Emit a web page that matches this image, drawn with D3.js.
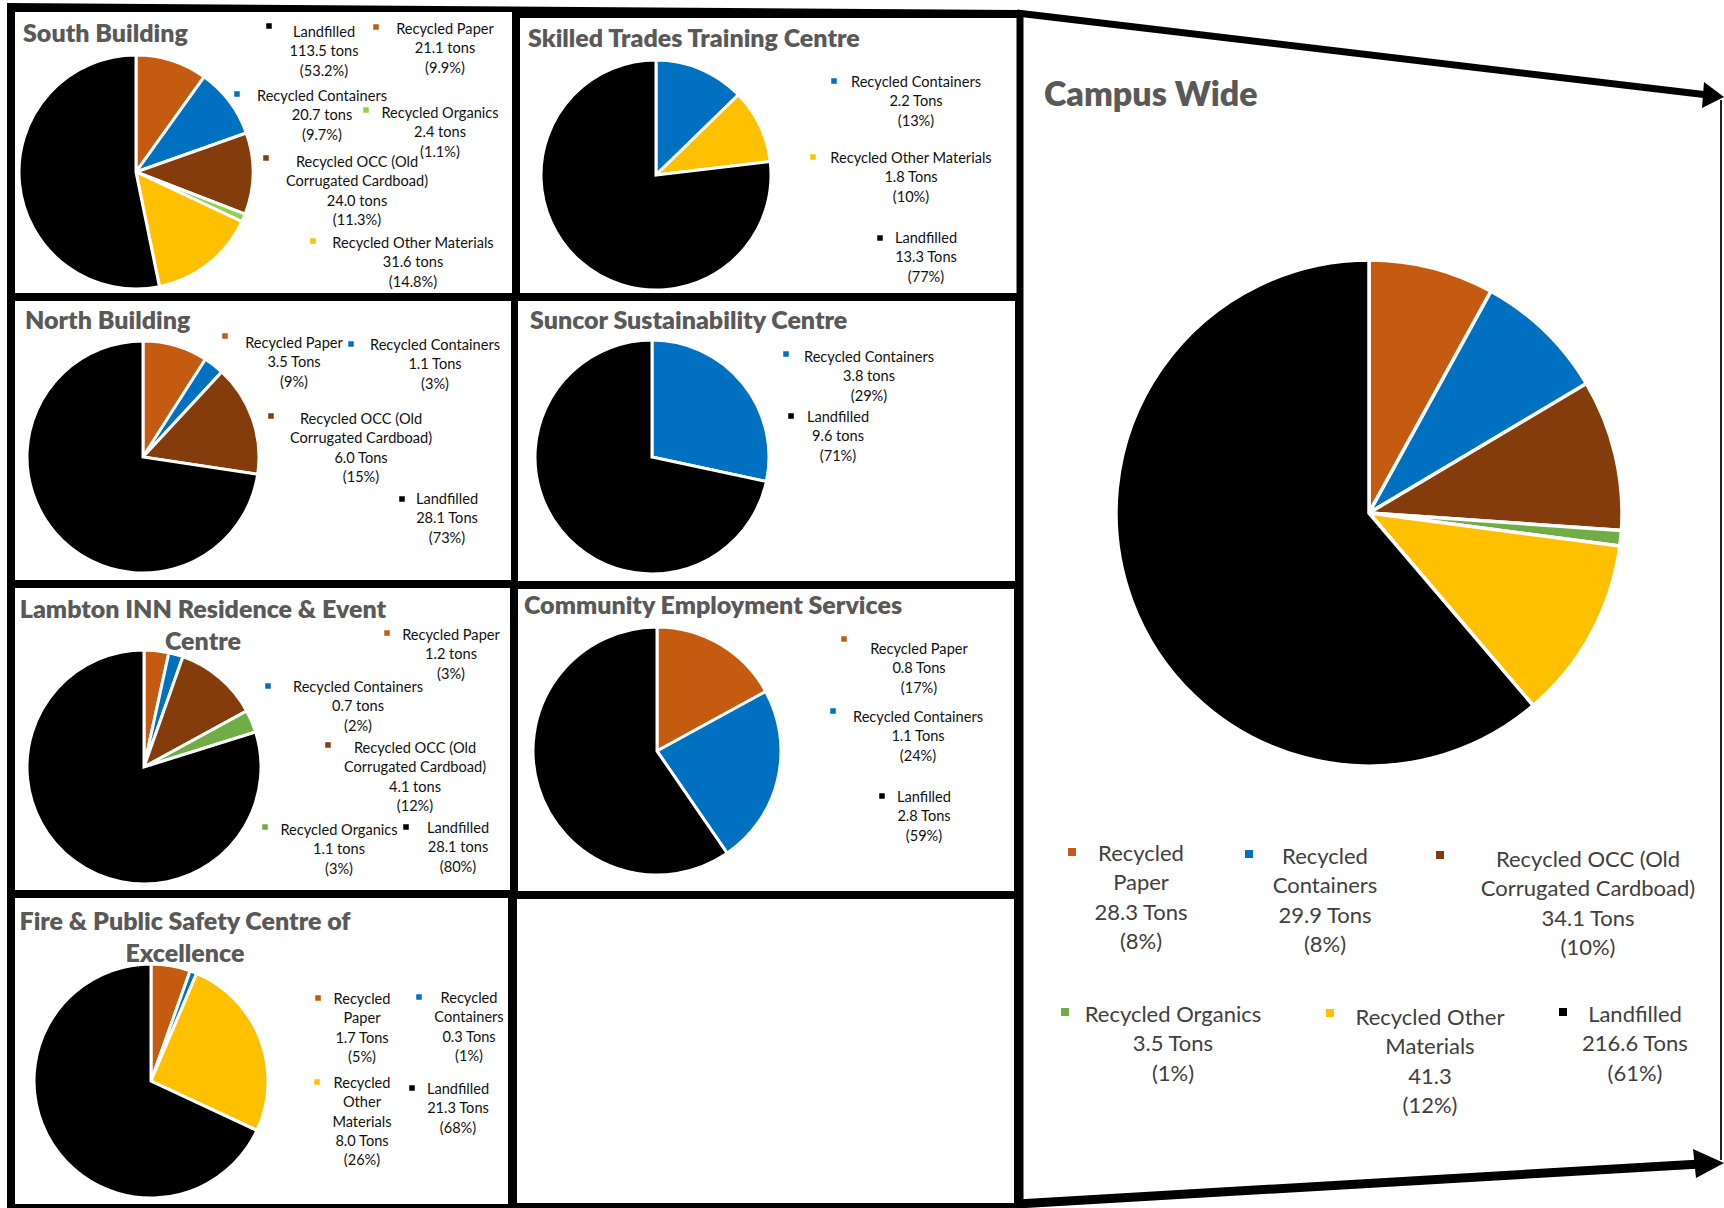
<!DOCTYPE html>
<html><head><meta charset="utf-8">
<script src="https://cdn.jsdelivr.net/npm/d3@7"></script>
<style>body{margin:0;background:#fff}</style>
</head><body>
<svg id="c" width="1724" height="1208"></svg>
<script>
// ---------- DATA ----------
const categories = ["Recycled Paper", "Recycled Containers", "Recycled OCC (Old Corrugated Cardboad)", "Recycled Organics", "Recycled Other Materials", "Landfilled"];
const colors = ["#C55A11", "#0070C0", "#843C0C", "#70AD47", "#FFC000", "#000000"];
const panelTitles = ["South Building", "Skilled Trades Training Centre", "North Building", "Suncor Sustainability Centre", "Lambton INN Residence & Event Centre", "Community Employment Services", "Fire & Public Safety Centre of Excellence", "Campus Wide"];

const southValues     = [21.1, 20.7, 24.0, 2.4, 31.6, 113.5];
const southPct        = ["9.9%", "9.7%", "11.3%", "1.1%", "14.8%", "53.2%"];
const skilledValues   = [null, 2.2, null, null, 1.8, 13.3];
const skilledPct      = [null, "13%", null, null, "10%", "77%"];
const northValues     = [3.5, 1.1, 6.0, null, null, 28.1];
const northPct        = ["9%", "3%", "15%", null, null, "73%"];
const suncorValues    = [null, 3.8, null, null, null, 9.6];
const suncorPct       = [null, "29%", null, null, null, "71%"];
const lambtonValues   = [1.2, 0.7, 4.1, 1.1, null, 28.1];
const lambtonPct      = ["3%", "2%", "12%", "3%", null, "80%"];
const communityValues = [0.8, 1.1, null, null, null, 2.8];
const communityPct    = ["17%", "24%", null, null, null, "59%"];
const fireValues      = [1.7, 0.3, null, null, 8.0, 21.3];
const firePct         = ["5%", "1%", null, null, "26%", "68%"];
const campusValues    = [28.3, 29.9, 34.1, 3.5, 41.3, 216.6];
const campusPct       = ["8%", "8%", "10%", "1%", "12%", "61%"];

// ---------- LAYOUT ----------
const svg = d3.select("#c");
const TITLE_FONT = "Lato, 'Open Sans', sans-serif";
const TITLE_COLOR = "#595959";

// frame background
svg.append("polygon").attr("points", "7,3 1023,10 1023,1208 7,1208").attr("fill", "#000");
const whites = [[15,12,497,281],[520,18,497,275],[15,301,496,279],[518,301,497,280],[15,588,495,302],[518,589,496,302],[15,898,493,306],[517,899,497,304]];
whites.forEach(w => svg.append("rect").attr("x", w[0]).attr("y", w[1]).attr("width", w[2]).attr("height", w[3]).attr("fill", "#fff"));

// campus frame lines with arrows
svg.append("line").attr("x1", 1020).attr("y1", 12).attr("x2", 1020).attr("y2", 1208).attr("stroke", "#000").attr("stroke-width", 7);
svg.append("line").attr("x1", 1017).attr("y1", 13).attr("x2", 1708).attr("y2", 95).attr("stroke", "#000").attr("stroke-width", 7);
svg.append("path").attr("d", "M1704,82 L1724,97 L1702,108 Z").attr("fill", "#000");
svg.append("line").attr("x1", 1017).attr("y1", 1204).attr("x2", 1700).attr("y2", 1164).attr("stroke", "#000").attr("stroke-width", 9);
svg.append("path").attr("d", "M1693,1149 L1724,1163 L1696,1178 Z").attr("fill", "#000");
svg.append("line").attr("x1", 1721).attr("y1", 100).attr("x2", 1721).attr("y2", 1160).attr("stroke", "#222").attr("stroke-width", 2);

const panels = [
  {values: southValues, pct: southPct, cx: 136, cy: 172, r: 117, colorOverride: {3: "#92D050"},
   titles: [{t: "South Building", x: 23, y: 33, a: "start"}],
   legend: [
     {c: 5, mx: 269, my: 26, tx: 324, ty: 32, lines: ["Landfilled"], unit: "tons"},
     {c: 0, mx: 376, my: 27, tx: 445, ty: 29, lines: ["Recycled Paper"], unit: "tons"},
     {c: 1, mx: 237, my: 94, tx: 322, ty: 96, lines: ["Recycled Containers"], unit: "tons"},
     {c: 3, mx: 366, my: 110, tx: 440, ty: 113, lines: ["Recycled Organics"], unit: "tons"},
     {c: 2, mx: 266, my: 158, tx: 357, ty: 162, lines: ["Recycled OCC (Old", "Corrugated Cardboad)"], unit: "tons"},
     {c: 4, mx: 313, my: 241, tx: 413, ty: 243, lines: ["Recycled Other Materials"], unit: "tons"}]},
  {values: skilledValues, pct: skilledPct, cx: 656, cy: 175, r: 115,
   titles: [{t: "Skilled Trades Training Centre", x: 528, y: 38, a: "start"}],
   legend: [
     {c: 1, mx: 834, my: 81, tx: 916, ty: 82, lines: ["Recycled Containers"], unit: "Tons"},
     {c: 4, mx: 813, my: 157, tx: 911, ty: 158, lines: ["Recycled Other Materials"], unit: "Tons"},
     {c: 5, mx: 880, my: 238, tx: 926, ty: 238, lines: ["Landfilled"], unit: "Tons"}]},
  {values: northValues, pct: northPct, cx: 143, cy: 457, r: 116,
   titles: [{t: "North Building", x: 25, y: 320, a: "start"}],
   legend: [
     {c: 0, mx: 225, my: 336, tx: 294, ty: 343, lines: ["Recycled Paper"], unit: "Tons"},
     {c: 1, mx: 351, my: 344, tx: 435, ty: 345, lines: ["Recycled Containers"], unit: "Tons"},
     {c: 2, mx: 271, my: 416, tx: 361, ty: 419, lines: ["Recycled OCC (Old", "Corrugated Cardboad)"], unit: "Tons"},
     {c: 5, mx: 402, my: 499, tx: 447, ty: 499, lines: ["Landfilled"], unit: "Tons"}]},
  {values: suncorValues, pct: suncorPct, cx: 652, cy: 457, r: 117,
   titles: [{t: "Suncor Sustainability Centre", x: 530, y: 320, a: "start"}],
   legend: [
     {c: 1, mx: 786, my: 354, tx: 869, ty: 357, lines: ["Recycled Containers"], unit: "tons"},
     {c: 5, mx: 791, my: 416, tx: 838, ty: 417, lines: ["Landfilled"], unit: "tons"}]},
  {values: lambtonValues, pct: lambtonPct, cx: 144, cy: 767, r: 117,
   titles: [{t: "Lambton INN Residence & Event", x: 203, y: 609, a: "middle"}, {t: "Centre", x: 203, y: 641, a: "middle"}],
   legend: [
     {c: 0, mx: 387, my: 633, tx: 451, ty: 635, lines: ["Recycled Paper"], unit: "tons"},
     {c: 1, mx: 268, my: 686, tx: 358, ty: 687, lines: ["Recycled Containers"], unit: "tons"},
     {c: 2, mx: 328, my: 745, tx: 415, ty: 748, lines: ["Recycled OCC (Old", "Corrugated Cardboad)"], unit: "tons"},
     {c: 3, mx: 265, my: 827, tx: 339, ty: 830, lines: ["Recycled Organics"], unit: "tons"},
     {c: 5, mx: 406, my: 827, tx: 458, ty: 828, lines: ["Landfilled"], unit: "tons"}]},
  {values: communityValues, pct: communityPct, cx: 657, cy: 751, r: 124,
   titles: [{t: "Community Employment Services", x: 524, y: 605, a: "start"}],
   legend: [
     {c: 0, mx: 844, my: 639, tx: 919, ty: 649, lines: ["Recycled Paper"], unit: "Tons"},
     {c: 1, mx: 833, my: 711, tx: 918, ty: 717, lines: ["Recycled Containers"], unit: "Tons"},
     {c: 5, mx: 882, my: 796, tx: 924, ty: 797, lines: ["Lanfilled"], unit: "Tons"}]},
  {values: fireValues, pct: firePct, cx: 151, cy: 1081, r: 117,
   titles: [{t: "Fire & Public Safety Centre of", x: 185, y: 921, a: "middle"}, {t: "Excellence", x: 185, y: 953, a: "middle"}],
   legend: [
     {c: 0, mx: 318, my: 998, tx: 362, ty: 999, lines: ["Recycled", "Paper"], unit: "Tons"},
     {c: 1, mx: 419, my: 997, tx: 469, ty: 998, lines: ["Recycled", "Containers"], unit: "Tons"},
     {c: 4, mx: 317, my: 1082, tx: 362, ty: 1083, lines: ["Recycled", "Other", "Materials"], unit: "Tons"},
     {c: 5, mx: 412, my: 1088, tx: 458, ty: 1089, lines: ["Landfilled"], unit: "Tons"}]},
  {values: campusValues, pct: campusPct, cx: 1369, cy: 513, r: 253, big: true,
   titles: [{t: "Campus Wide", x: 1044, y: 94, a: "start"}],
   legend: [
     {c: 0, mx: 1072, my: 852, tx: 1141, ty: 853, lines: ["Recycled", "Paper"], unit: "Tons"},
     {c: 1, mx: 1249, my: 854, tx: 1325, ty: 856, lines: ["Recycled", "Containers"], unit: "Tons"},
     {c: 2, mx: 1440, my: 855, tx: 1588, ty: 859, lines: ["Recycled OCC (Old", "Corrugated Cardboad)"], unit: "Tons"},
     {c: 3, mx: 1065, my: 1012, tx: 1173, ty: 1014, lines: ["Recycled Organics"], unit: "Tons"},
     {c: 4, mx: 1330, my: 1013, tx: 1430, ty: 1017, lines: ["Recycled Other", "Materials"], unit: ""},
     {c: 5, mx: 1563, my: 1012, tx: 1635, ty: 1014, lines: ["Landfilled"], unit: "Tons"}]}
];

const pie = d3.pie().sort(null).value(d => d.v);

panels.forEach(p => {
  const g = svg.append("g");
  const col = i => (p.colorOverride && p.colorOverride[i]) || colors[i];
  const data = categories.map((c, i) => ({c: i, v: p.values[i]})).filter(d => d.v != null);
  const arc = d3.arc().innerRadius(0).outerRadius(p.r);
  g.append("g").attr("transform", `translate(${p.cx},${p.cy})`)
    .selectAll("path").data(pie(data)).join("path")
    .attr("d", arc).attr("fill", d => col(d.data.c))
    .attr("stroke", "#fff").attr("stroke-width", p.big ? 3.5 : 3).attr("stroke-linejoin", "miter");

  p.titles.forEach((t, k) => {
    g.append("text").attr("x", t.x).attr("y", t.y).attr("dy", "0.35em")
      .attr("text-anchor", t.a).attr("font-family", TITLE_FONT).attr("font-weight", 800)
      .attr("font-size", p.big ? 34 : 25).attr("fill", TITLE_COLOR).text(t.t);
  });

  const fs = p.big ? 22 : 14.6, lh = p.big ? 29.5 : 19.3, ms = p.big ? 8 : 5.5;
  p.legend.forEach(L => {
    g.append("rect").attr("x", L.mx - ms / 2).attr("y", L.my - ms / 2).attr("width", ms).attr("height", ms).attr("fill", col(L.c));
    const v = p.values[L.c];
    const lines = L.lines.concat([v.toFixed(1) + (L.unit ? " " + L.unit : ""), "(" + p.pct[L.c] + ")"]);
    const t = g.append("text").attr("text-anchor", "middle").attr("font-family", "Lato, 'Open Sans', sans-serif")
      .attr("font-size", fs).attr("fill", p.big ? "#404040" : "#111");
    lines.forEach((s, k) => t.append("tspan").attr("x", L.tx).attr("y", L.ty + k * lh).attr("dy", "0.35em").text(s));
  });
});
</script>
</body></html>
